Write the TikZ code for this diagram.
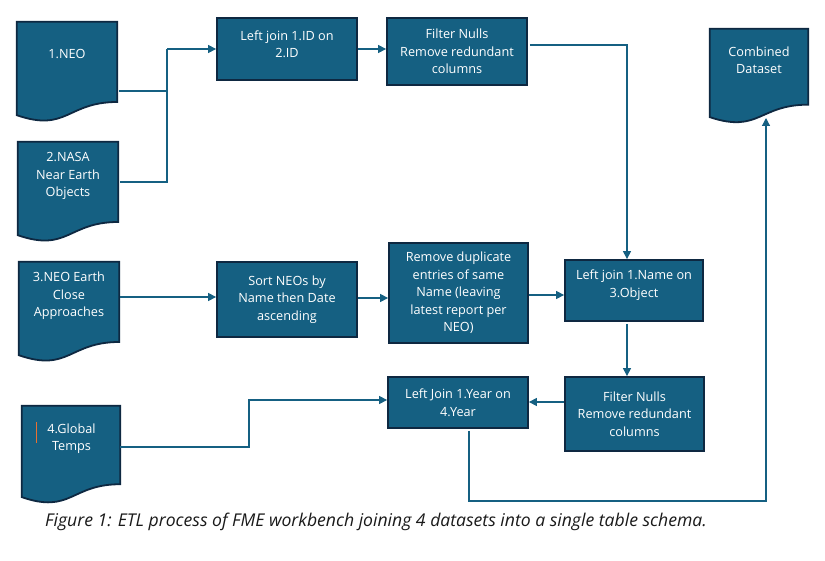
\documentclass[tikz,border=0pt]{standalone}
\usepackage{fontspec}
\setmainfont{Open Sans}
\usetikzlibrary{arrows.meta,calc}
\definecolor{fillblue}{HTML}{156082}
\definecolor{edgeblue}{HTML}{0E2841}
\definecolor{linkblue}{HTML}{156082}
\definecolor{cursorcol}{HTML}{E97132}
\definecolor{captext}{HTML}{1A1A1A}
\newcommand\drawdoc[1]{\path[docshape] (#1.north west) -- (#1.north east) -- ($(#1.north east)!0.802!(#1.south east)$) .. controls ($(#1.north)!0.802!(#1.south)$) and ($(#1.north)!1.1075!(#1.south)$) .. ($(#1.north west)!0.934!(#1.south west)$) -- cycle;}
\begin{document}
\begin{tikzpicture}[x=1pt,y=-1pt,
  boxfont/.style={font=\fontsize{12.7}{17.5}\selectfont},
  procbox/.style={draw=edgeblue, fill=fillblue, line width=1.8pt, text=white, align=center, boxfont, inner sep=0pt},
  docbox/.style={inner sep=0pt, draw=none},
  docshape/.style={draw=edgeblue, fill=fillblue, line width=1.8pt},
  doctext/.style={text=white, align=center, boxfont, inner sep=0pt},
  boxlabel/.style={text=white, align=center, boxfont, inner sep=0pt},
  link/.style={draw=linkblue, line width=1.2pt},
  conn/.style={link, -{Triangle[length=8pt,width=8pt]}}
]
\useasboundingbox (0,0) rectangle (825,561);
\fill[white] (0,0) rectangle (825,561);

% documents
\node[docbox, minimum width=100pt, minimum height=99.6pt] (d1) at (67,71.8) {};
\drawdoc{d1}
\node[doctext] (t1) at (67,54) {1.NEO};

\node[docbox, minimum width=100pt, minimum height=99.6pt] (d2) at (68,191.8) {};
\drawdoc{d2}
\node[doctext] (t2) at (68,176) {2.NASA\\Near Earth\\Objects};

\node[docbox, minimum width=100pt, minimum height=99.6pt] (d3) at (69,311.8) {};
\drawdoc{d3}
\node[doctext] (t3) at (69,296) {3.NEO Earth\\Close\\Approaches};

\node[docbox, minimum width=98pt, minimum height=97.4pt] (d4) at (71,454.7) {};
\drawdoc{d4}
\node[doctext] (t4) at (71.5,438.5) {4.Global\\Temps};
\draw[cursorcol, line width=1pt] (36,422) -- (36,443);

\node[docbox, minimum width=98pt, minimum height=94.2pt] (dc) at (759,76.1) {};
\drawdoc{dc}
\node[doctext] (tc) at (759,60) {Combined\\Dataset};

% process boxes
\node[procbox, minimum width=140pt, minimum height=62pt,
  label={[boxlabel, yshift=5pt]center:{Left join 1.ID on\\2.ID}}] (b1) at (287,49) {};
\node[procbox, minimum width=140pt, minimum height=67pt] (b2) at (457,51.5) {Filter Nulls\\Remove redundant\\columns};
\node[procbox, minimum width=140pt, minimum height=75pt] (b3) at (287,299.5) {Sort NEOs by\\Name then Date\\ascending};
\node[procbox, minimum width=139pt, minimum height=100pt] (b4) at (458.5,293) {Remove duplicate\\entries of same\\Name (leaving\\latest report per\\NEO)};
\node[procbox, minimum width=138pt, minimum height=61pt,
  label={[boxlabel, yshift=5.5pt]center:{Left join 1.Name on\\3.Object}}] (b5) at (634,290.5) {};
\node[procbox, minimum width=139pt, minimum height=74pt] (b6) at (634.5,414) {Filter Nulls\\Remove redundant\\columns};
\node[procbox, minimum width=140pt, minimum height=51pt] (b7) at (458,402.5) {Left Join 1.Year on\\4.Year};

% junction coordinates
\coordinate (j1) at (167,49);
\coordinate (j4) at (249,400);
\coordinate (jb) at (766,501);
\coordinate (cend) at (766,118);

% connectors
\draw[link] ([xshift=2pt,yshift=-19.2pt]d1.east) -| (j1);
\draw[link] ([xshift=2pt,yshift=9.8pt]d2.east) -| (j1);
\draw[conn] (j1) -- (j1 -| b1.west);
\draw[conn] (b1.east) -- (b1.east -| b2.west);
\draw[conn] ([xshift=2pt,yshift=6.5pt]b2.east) -| ([xshift=-7pt]b5.north);
\draw[conn] ([xshift=1pt,yshift=14.8pt]d3.east) -- ([yshift=14.8pt]d3.east -| b3.west);
\draw[conn] ([yshift=1.5pt]b3.east) -- ([yshift=1.5pt]b3.east -| b4.west);
\draw[conn] ([yshift=-2pt]b4.east) -- ([yshift=-2pt]b4.east -| b5.west);
\draw[conn] ([xshift=-7pt,yshift=-2pt]b5.south) -- ([xshift=-7pt]b5.south |- b6.north);
\draw[conn] ([yshift=12pt]b6.west) -- ([yshift=12pt]b6.west -| b7.east);
\draw[conn] ([yshift=7.7pt]d4.east) -| (j4) -- (j4 -| b7.west);
\draw[conn] ([xshift=11pt,yshift=-2pt]b7.south) |- (jb) -- (cend);

% caption
\node[font=\fontsize{17.6}{21}\selectfont\itshape, text=captext, anchor=west, inner sep=0pt] (cap) at (45,522) {Figure 1: ETL process of FME workbench joining 4 datasets into a single table schema.};
\end{tikzpicture}
\end{document}
